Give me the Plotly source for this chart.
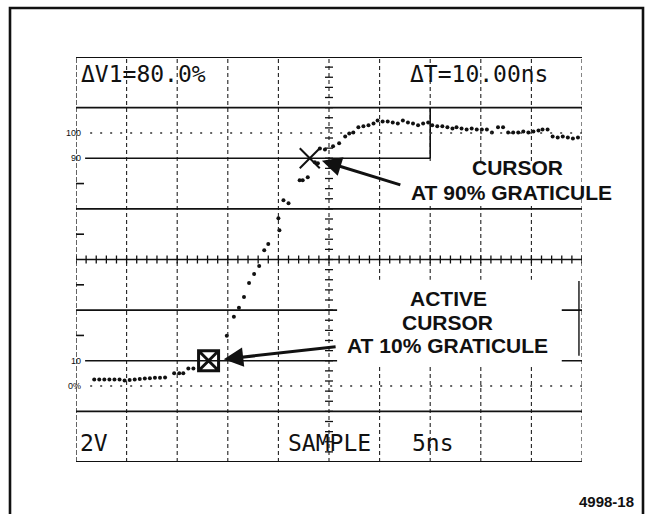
import plotly.graph_objects as go

W, H = 647, 514

# ---- data -------------------------------------------------------------
# Sampled waveform: time in ns (5 ns/div), level in % of the 0-100 % span
time_ns = [
    1.8, 2.3, 2.8, 3.3, 3.8, 4.3, 4.8, 5.3, 5.8, 6.3, 6.8, 7.3, 7.8, 8.3, 8.8,
    9.7, 10.2, 10.6, 11.1, 11.6,
    14.9, 15.6, 16.1, 16.6, 17.1, 17.6, 18.1, 18.6, 19.0, 20.1, 20.0, 20.5, 21.0,
    22.1, 22.4, 22.9, 23.6, 23.9, 24.1, 24.6, 25.4, 26.0, 26.6, 27.0, 27.4, 27.9,
    28.4, 28.9, 29.4, 29.8, 30.3, 30.8, 31.3, 31.8, 32.3, 32.8, 33.3, 33.8, 34.3,
    34.8, 35.2, 35.7, 36.2, 36.7, 37.2, 37.6, 38.1, 38.6, 39.1, 39.6, 40.1, 40.6,
    41.1, 41.7, 42.2, 42.7, 43.2, 43.7, 44.2, 44.7, 45.2, 45.7, 46.1, 46.6, 47.1,
    47.6, 48.1, 48.6, 49.1, 49.6,
]
level_pct = [
    2.6, 2.6, 2.6, 2.6, 2.6, 2.6, 2.2, 2.4, 2.6, 2.8, 3.0, 3.1, 3.3, 3.3, 3.4,
    5.1, 5.1, 5.1, 6.9, 6.9,
    19.9, 27.4, 30.9, 35.2, 40.7, 44.3, 47.4, 53.7, 56.1, 61.6, 66.3, 73.4, 72.2,
    81.3, 81.3, 82.5, 88.4, 88.0, 93.9, 93.5, 94.7, 95.9, 98.6, 99.8, 100.2, 102.2,
    102.6, 103.0, 103.7, 104.9, 104.5, 104.5, 104.1, 103.7, 104.9, 104.1, 103.7,
    103.0, 103.7, 104.1, 103.0, 102.6, 102.6, 102.2, 101.8, 102.2, 101.8, 101.4,
    101.8, 101.4, 101.4, 101.4, 100.2, 102.2, 102.2, 100.2, 100.2, 100.2, 100.6,
    100.2, 100.6, 101.0, 101.4, 101.4, 98.6, 98.2, 98.6, 98.2, 97.8, 98.2,
]

# Cursor positions (time ns, level %)
active_cursor_t = [13.1]
active_cursor_p = [10]
other_cursor_t = [23.1]
other_cursor_p = [90]

# Readouts
readout_top = ["ΔV1=80.0%", "ΔT=10.00ns"]
readout_bottom = ["2V", "SAMPLE", "5ns"]
level_labels = ["100", "90", "10", "0%"]
level_label_values = [100, 90, 10, 0]

# ---- layout helpers ------------------------------------------------------
T0, T1 = 0, 50          # 10 div x 5 ns
P0, P1 = -30, 130       # 8 div x 20 %
SX0, SX1, SY0, SY1 = 76, 582, 57, 462   # graticule box in page pixels

def px(x):
    return x / W

def py(y):
    return 1 - y / H

shapes = []

def seg(t0, p0, t1, p1, width=1.4, dash="solid", color="#111"):
    shapes.append(dict(type="line", xref="x", yref="y", x0=t0, y0=p0, x1=t1, y1=p1,
                       line=dict(color=color, width=width, dash=dash), layer="above"))

def white_box(t0, p0, t1, p1):
    shapes.append(dict(type="rect", xref="x", yref="y", x0=t0, y0=p0, x1=t1, y1=p1,
                       fillcolor="white", line=dict(width=0), layer="above"))

# vertical graticule lines (dashed)
for t in [5, 10, 15, 20, 25, 30, 35, 40, 45]:
    seg(t, P0, t, P1, width=1.1, dash="4px,3px", color="#222")
# screen side borders
seg(T0, P0, T0, P1, width=1.3, dash="5px,2px")
seg(T1, P0, T1, P1, width=1.1, dash="4px,3px", color="#222")

# horizontal graticule lines
seg(T0, P1, T1, P1, width=1.8)
seg(T0, P0, T1, P0, width=1.8)
seg(T0, 110, T1, 110, width=1.6)
seg(T0, 70, T1, 70, width=1.6)
seg(T0, 50, T1, 50, width=1.6)
seg(T0, 30, T1, 30, width=1.6)
seg(T0, -10, T1, -10, width=1.6)
# 90 % line with step up at 35 ns
seg(0.9, 90, 35, 90, width=1.6)
seg(35, 90, 35, 110, width=1.6)
# 10 % line
seg(0.9, 10, T1, 10, width=1.6)

# 0 % and 100 % dotted reference lines
seg(1.4, 100, T1, 100, width=1.6, dash="2px,8px", color="#333")
seg(1.4, 0, T1, 0, width=1.6, dash="2px,8px", color="#333")

# minor ticks on the centre crosshair
ns_per_px = (T1 - T0) / (SX1 - SX0)
pct_per_px = (P1 - P0) / (SY1 - SY0)
for k in range(0, 41):
    p = P0 + 4 * k
    seg(25 - 4 * ns_per_px, p, 25 + 4 * ns_per_px, p, width=1.3)
for k in range(0, 51):
    t = T0 + k
    seg(t, 50 - 4 * pct_per_px, t, 50 + 4 * pct_per_px, width=1.3)

# left-edge marks at 20/40/60/80 %
for p in [20, 40, 60, 80]:
    seg(T0, p, T0 + 8 * ns_per_px, p, width=1.6)

# label background panels
white_box(32.5, 71.5, 49.7, 88.5)
white_box(25.8, 8.3, 48.0, 42.0)
# right edge of the lower panel
seg(49.7, 12, 49.7, 41.5, width=1.4)

# outer figure frame
shapes.append(dict(type="rect", xref="paper", yref="paper",
                   x0=px(10), x1=px(643), y0=-0.05, y1=py(8),
                   line=dict(color="#111", width=2.6), layer="above"))

fig = go.Figure()
fig.add_trace(go.Scatter(
    x=time_ns, y=level_pct, mode="markers",
    marker=dict(size=4, color="#111"), hoverinfo="skip", showlegend=False,
))
fig.add_trace(go.Scatter(
    x=active_cursor_t, y=active_cursor_p, mode="markers",
    marker=dict(symbol="square-x-open", size=20, color="#111",
                line=dict(width=3, color="#111")),
    hoverinfo="skip", showlegend=False,
))
fig.add_trace(go.Scatter(
    x=other_cursor_t, y=other_cursor_p, mode="markers",
    marker=dict(symbol="x-thin-open", size=20, color="#111",
                line=dict(width=2, color="#111")),
    hoverinfo="skip", showlegend=False,
))

annotations = []

def label(text, x, y, size, family, xanchor="center", weight="normal"):
    annotations.append(dict(text=text, x=px(x), y=py(y), xref="paper", yref="paper",
                            xanchor=xanchor, yanchor="middle", showarrow=False,
                            font=dict(size=size, family=family, color="#111",
                                      weight=weight)))

mono = "DejaVu Sans Mono"
label(readout_top[0], 79, 74, 23, mono, xanchor="left")
label(readout_top[1], 408, 74, 23, mono, xanchor="left")
label(readout_bottom[0], 78, 443, 23, mono, xanchor="left")
label(readout_bottom[1], 286, 443, 23, mono, xanchor="left")
label(readout_bottom[2], 410, 443, 23, mono, xanchor="left")

sans = "Liberation Sans"
for txt, val in zip(level_labels, level_label_values):
    ypix = SY1 - (val - P0) / pct_per_px
    label(txt, 83, ypix, 9, sans, xanchor="right")

label("CURSOR", 517, 168, 21, sans, weight="bold")
label("AT 90% GRATICULE", 511, 192, 21, sans, weight="bold")
label("ACTIVE", 448, 298, 21, sans, weight="bold")
label("CURSOR", 447, 322, 21, sans, weight="bold")
label("AT 10% GRATICULE", 447, 345, 21, sans, weight="bold")
label("4998-18", 606, 501, 15, sans, weight="bold")

# pointer arrows to the two cursors
annotations.append(dict(x=24.3, y=89.0, ax=32.2, ay=79.3, xref="x", yref="y",
                        axref="x", ayref="y", text="", showarrow=True,
                        arrowhead=2, arrowsize=1.3, arrowwidth=3, arrowcolor="#111",
                        standoff=0))
annotations.append(dict(x=14.6, y=10.6, ax=25.8, ay=15.6, xref="x", yref="y",
                        axref="x", ayref="y", text="", showarrow=True,
                        arrowhead=2, arrowsize=1.3, arrowwidth=3, arrowcolor="#111",
                        standoff=0))

fig.update_layout(
    width=W, height=H,
    margin=dict(l=0, r=0, t=0, b=0),
    paper_bgcolor="white", plot_bgcolor="white",
    xaxis=dict(range=[T0, T1], domain=[px(SX0), px(SX1)], visible=False,
               fixedrange=True),
    yaxis=dict(range=[P0, P1], domain=[py(SY1), py(SY0)], visible=False,
               fixedrange=True),
    shapes=shapes,
    annotations=annotations,
    showlegend=False,
)

fig.write_html("out.html")
